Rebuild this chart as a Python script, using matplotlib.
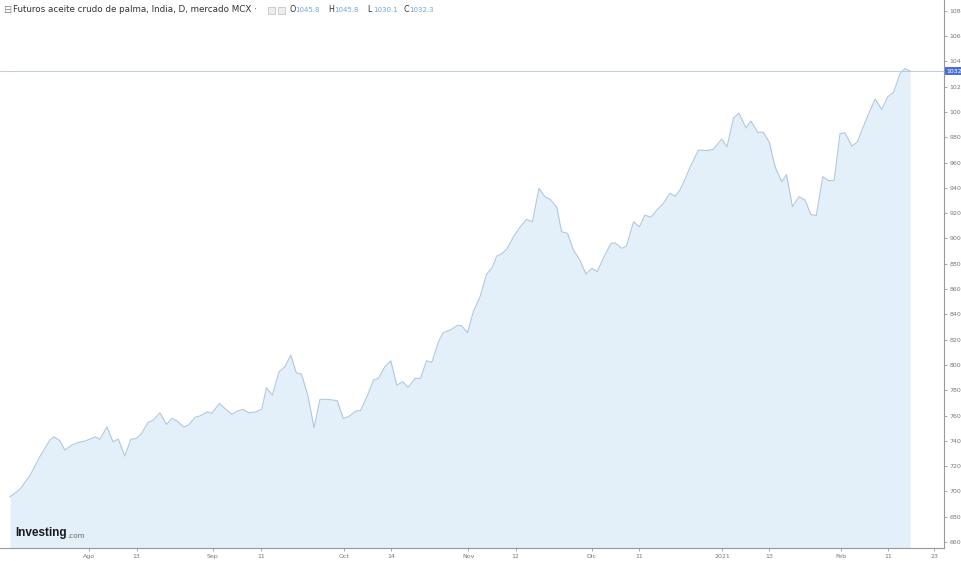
import matplotlib
matplotlib.use("Agg")
import matplotlib.pyplot as plt
from matplotlib.patches import Rectangle

# trading-day index (0 = first bar shown) and close price
day = [0.0, 0.8, 1.7, 3.4, 5.0, 6.7, 7.4, 8.4, 9.2, 10.4, 11.5, 12.6, 14.3, 15.1, 16.3,
       17.3, 18.2, 19.3, 20.3, 21.3, 22.1, 23.2, 24.1, 25.2, 26.3, 27.2, 28.0, 29.2, 30.0,
       31.1, 31.9, 33.2, 33.9, 35.2, 36.1, 37.3, 38.2, 39.2, 40.1, 41.2, 42.3, 43.1, 44.1,
       45.2, 46.2, 47.2, 48.1, 49.0, 50.1, 51.1, 52.1, 53.2, 54.1, 55.0, 56.0, 56.9, 58.2,
       58.9, 60.1, 61.1, 61.9, 63.0, 64.0, 65.0, 66.0, 66.9, 68.1, 69.0, 70.0, 70.9, 72.0,
       72.8, 74.2, 75.2, 75.9, 76.9, 77.9, 79.0, 80.1, 81.0, 81.8, 82.6, 83.5, 84.6, 85.7,
       86.8, 87.8, 88.9, 89.9, 90.8, 91.9, 92.7, 93.7, 94.7, 95.7, 96.8, 97.8, 98.7, 99.7,
       101.0, 101.7, 102.8, 103.6, 104.8, 105.8, 106.7, 107.7, 108.7, 109.8, 110.9, 111.8,
       112.6, 113.4, 114.3, 115.7, 117.1, 118.2, 119.6, 120.5, 121.6, 122.5, 123.7, 124.5,
       125.7, 126.6, 127.6, 128.6, 129.7, 130.5, 131.5, 132.6, 133.6, 134.6, 135.5, 136.6,
       137.5, 138.5, 139.5, 140.3, 141.5, 142.4, 143.4, 144.4, 145.4, 146.5, 147.5, 148.5,
       149.6, 150.4, 151.3]
close = [695.8, 698.5, 701.9, 713.0, 727.4, 740.6, 743.2, 740.1, 732.7, 736.7, 738.8, 739.8,
         743.2, 741.2, 751.1, 739.3, 741.4, 728.0, 741.2, 742.0, 745.9, 754.6, 756.4, 762.2,
         753.0, 757.8, 755.9, 751.1, 752.5, 758.6, 759.6, 763.0, 761.7, 769.6, 765.7, 760.9,
         763.6, 764.9, 762.2, 762.8, 764.9, 782.0, 776.2, 794.6, 798.6, 807.8, 793.8, 792.8,
         774.9, 750.4, 772.8, 772.8, 772.4, 771.7, 757.8, 759.1, 763.8, 763.8, 776.2, 788.1,
         789.4, 798.6, 803.3, 784.1, 786.7, 782.3, 789.4, 789.4, 803.3, 802.1, 818.3, 825.5,
         828.1, 831.3, 831.0, 825.5, 842.6, 853.9, 871.9, 876.6, 886.1, 887.7, 891.6, 901.3,
         908.8, 915.1, 913.2, 939.6, 933.0, 930.9, 924.6, 905.3, 904.0, 890.8, 883.5, 871.9,
         876.4, 873.7, 884.3, 896.1, 896.6, 892.2, 894.0, 913.2, 909.2, 918.5, 916.7, 922.4,
         927.7, 935.6, 933.5, 938.3, 946.2, 956.4, 969.9, 969.5, 970.4, 978.6, 972.5, 995.2,
         999.1, 987.3, 992.8, 983.7, 984.1, 976.2, 956.4, 944.8, 950.5, 925.1, 933.0, 930.4,
         918.9, 918.1, 948.8, 945.8, 945.8, 982.9, 983.6, 973.0, 976.2, 988.3, 999.7, 1010.2,
         1002.0, 1011.8, 1015.7, 1030.5, 1034.3, 1032.3]

tick_pos = [13.3, 21.3, 34.1, 42.2, 56.1, 64.0, 77.0, 85.0, 97.8, 105.7, 119.7, 127.6,
            139.7, 147.6, 155.3]
tick_lab = ["Ago", "13", "Sep", "11", "Oct", "14", "Nov", "12", "Dic", "11", "2021", "13",
            "Feb", "11", "23"]
y_ticks = list(range(660, 1081, 20))
last_price = 1032.3
ohlc = [("O", "1045.8"), ("H", "1045.8"), ("L", "1030.1"), ("C", "1032.3")]

W, H = 961, 561
fig = plt.figure(figsize=(W / 100, H / 100), dpi=100)
ax = fig.add_axes([0, 13 / H, 944 / W, 548 / H])

ax.fill_between(day, close, 600, color="#e3eff9", lw=0)
ax.plot(day, close, color="#b0c8e0", lw=0.8)
ax.axhline(last_price, color="#b4c2ee", lw=0.6)

ax.set_xlim(-1.68, 156.97)
ax.set_ylim(655.3, 1088.5)

for s in ["top", "left"]:
    ax.spines[s].set_visible(False)
for s in ["right", "bottom"]:
    ax.spines[s].set_color("#999999")
    ax.spines[s].set_linewidth(0.8)

ax.yaxis.tick_right()
ax.set_yticks(y_ticks)
ax.set_yticklabels([f"{v:.1f}" for v in y_ticks])
ax.set_xticks(tick_pos)
ax.set_xticklabels(tick_lab)
ax.tick_params(axis="both", colors="#999999", labelcolor="#777777", labelsize=4.5,
               length=2.5, width=0.6, pad=1.5)

# last price tag
ax.text(1.003, last_price, f"{last_price}", transform=ax.get_yaxis_transform(),
        ha="left", va="center", fontsize=4.5, color="white", clip_on=False,
        bbox=dict(boxstyle="square,pad=0.25", fc="#4a6fdc", ec="none"))

# header line
ty = 1 - 10 / H
fig.text(3 / W, ty, "⊟", fontsize=7, color="#888888", va="center")
fig.text(13 / W, ty, "Futuros aceite crudo de palma, India, D, mercado MCX ·",
         fontsize=6.3, color="#333333", va="center")
for bx in [268, 278]:
    fig.patches.append(Rectangle((bx / W, ty - 3.5 / H), 7 / W, 7 / H,
                                 transform=fig.transFigure, fc="#eeeeee", ec="#bbbbbb",
                                 lw=0.5))
xs = [289, 328, 367, 403]
for x0, (k, v) in zip(xs, ohlc):
    fig.text(x0 / W, ty, k, fontsize=5.8, color="#333333", va="center")
    fig.text((x0 + 6) / W, ty, v, fontsize=5.0, color="#6fa8dc", va="center")

# watermark
logo = fig.text(15 / W, 1 - 533 / H, "Investing", fontsize=8.5, fontweight="bold",
                family=["Liberation Sans Narrow", "Liberation Sans", "DejaVu Sans"],
                color="#1a1a1a", va="center")
ax.annotate(".com", xy=(1, 0), xycoords=logo, xytext=(0.5, 0), textcoords="offset points",
            fontsize=5.2, color="#666666", ha="left", va="bottom", annotation_clip=False)

fig.savefig("out.png", dpi=100)
